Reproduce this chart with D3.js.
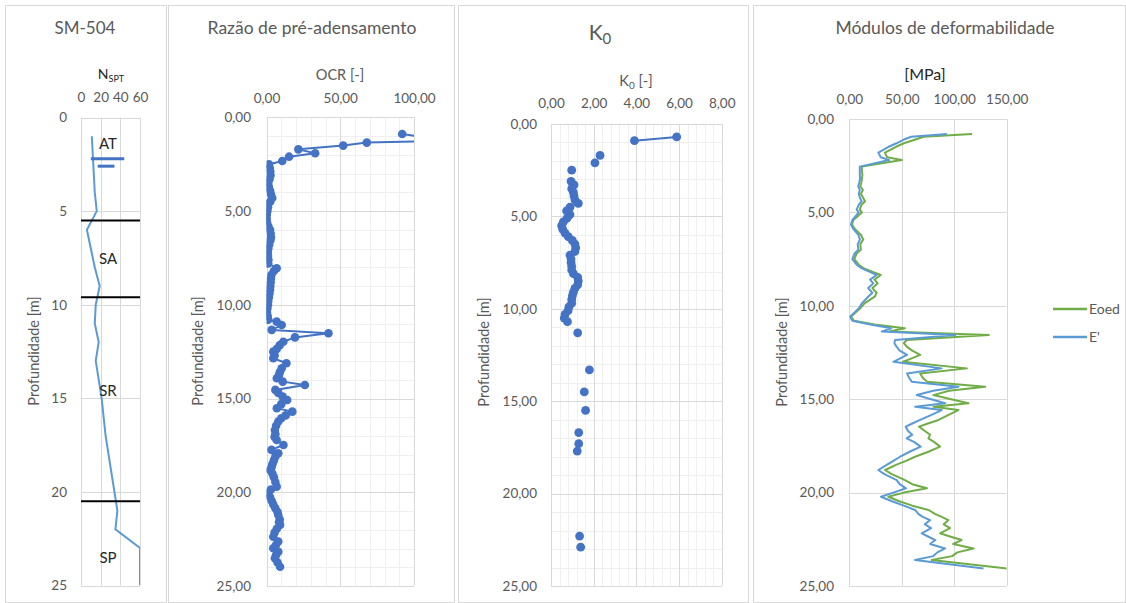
<!DOCTYPE html>
<html><head><meta charset="utf-8">
<script src="https://cdn.jsdelivr.net/npm/d3@7"></script>
<style>
body{margin:0;background:#fff;}
svg{display:block;}
text{font-family:Lato,"Open Sans",sans-serif;}
</style>
</head><body>
<svg id="c" width="1126" height="603"></svg>
<script>
// ---------------- DATA ----------------
const depthTicks = [0,5,10,15,20,25];
const nsptTicks = [0,20,40,60];
const ocrTicks = [0,50,100];
const k0Ticks = [0,2,4,6,8];
const modTicks = [0,50,100,150];

const nsptDepth = [1,2,3,4,5,6,7,8,9,10,11,12,13,14,15,16,17,18,19,20,21,22,23,24,25];
const nsptValue = [11,12,13,14,16,6,10,14,19,15,14,18,15,18,21,23,25,28,31,34,37,35,60,60,60];

const layerBounds = [5.5, 9.6, 20.5];
const layerNames = ["AT","SA","SR","SP"];
const layerLabelDepth = [1.4, 7.55, 14.6, 23.5];
const waterDepth = [2.2, 2.6];
const waterFrom = [10, 17];
const waterTo = [44, 34];

const ocrDepth = [0.89,1.1,1.25,1.35,1.51,1.71,1.92,2.1,2.33,2.51,2.7,2.9,3.1,3.3,3.5,3.7,3.9,4.1,4.3,4.5,4.6,4.8,5.0,5.2,5.4,5.6,5.8,6.0,6.2,6.4,6.55,6.8,7.0,7.2,7.4,7.6,7.8,8.05,8.2,8.4,8.6,8.8,9.0,9.2,9.4,9.6,9.8,10.0,10.2,10.4,10.6,10.8,10.9,11.08,11.34,11.52,11.74,11.97,12.15,12.35,12.5,12.7,12.85,13.12,13.39,13.6,13.75,13.92,14.1,14.28,14.54,14.7,14.9,15.08,15.3,15.52,15.7,15.9,16.05,16.23,16.45,16.68,16.9,17.05,17.21,17.48,17.74,17.92,18.1,18.3,18.5,18.65,18.81,19.0,19.2,19.45,19.7,19.85,20.05,20.25,20.45,20.65,20.85,21.05,21.21,21.45,21.6,21.74,21.95,22.15,22.37,22.63,22.8,22.99,23.17,23.35,23.52,23.75,23.97];
const ocrValue = [92,110,120,68,52,21.6,33,15.3,10.7,1.7,2.2,2.6,2.7,2.0,1.2,1.6,2.4,3.0,3.9,2.5,1.2,1.0,0.6,0.2,0.1,0.3,1.2,2.4,2.8,3.0,2.7,1.8,1.2,0.9,1.0,1.3,1.2,6.9,5.0,3.4,3.0,2.8,2.6,2.4,2.0,1.6,1.2,1.0,0.6,0.3,0.8,1.2,6.9,10.3,3.5,42,19.3,11.4,9.0,7.0,4.6,5.5,4.6,13.5,10.3,9.0,8.5,7.0,11.0,26,6.0,8.0,11.0,14.0,10.0,7.0,17.5,13.0,10.0,8.0,6.5,5.7,6.0,5.5,6.9,11.5,3.4,8.0,6.0,5.0,4.0,3.5,2.4,4.0,5.0,6.0,6.9,3.0,1.2,2.4,3.5,4.6,6.0,7.5,8.0,9.0,8.5,9.2,7.0,5.5,4.6,8.0,6.5,4.6,8.0,6.5,5.7,7.5,9.2];

const k0Depth = [0.7,0.9,1.3,1.7,1.9,2.1,2.3,2.5,2.8,3.1,3.3,3.5,3.7,3.9,4.1,4.3,4.5,4.7,4.9,5.1,5.3,5.5,5.7,5.9,6.1,6.3,6.5,6.7,6.9,7.1,7.3,7.5,7.7,7.9,8.1,8.3,8.5,8.7,8.9,9.1,9.3,9.5,9.7,9.9,10.1,10.3,10.5,10.7,10.9,11.3,11.5,13.3,13.5,14.5,14.7,15.5,15.7,16.7,16.9,17.3,17.5,17.7,17.9,22.3,22.5,22.9];
const k0Value = [5.89,3.91,null,2.30,null,2.06,null,0.97,null,0.94,1.08,0.97,1.05,1.08,1.12,1.28,0.89,0.73,0.89,0.75,0.58,0.50,0.55,0.66,0.81,1.0,1.12,1.16,1.12,0.89,0.94,0.94,0.97,0.97,1.05,1.25,1.28,1.25,1.12,1.05,1.0,0.97,0.97,0.84,0.80,0.66,0.62,0.77,null,1.25,null,1.80,null,1.56,null,1.62,null,1.30,null,1.30,null,1.23,null,1.34,null,1.39];

const modDepth = [0.8,0.95,1.1,1.3,1.5,1.8,2.05,2.2,2.55,2.8,3.0,3.2,3.4,3.6,3.8,4.0,4.2,4.4,4.6,4.85,5.0,5.2,5.4,5.65,5.9,6.2,6.45,6.7,7.0,7.2,7.5,7.8,8.0,8.2,8.35,8.6,8.8,9.05,9.3,9.5,9.87,10.1,10.3,10.58,10.8,11.0,11.2,11.38,11.56,11.83,12.0,12.2,12.4,12.63,12.8,13.0,13.35,13.62,13.85,14.06,14.33,14.55,14.78,15.0,15.22,15.4,15.58,15.8,16.11,16.3,16.47,16.7,16.9,17.1,17.3,17.54,17.8,18.08,18.3,18.5,18.79,19.0,19.33,19.55,19.77,20.0,20.22,20.45,20.7,20.93,21.15,21.3,21.47,21.7,21.9,22.18,22.35,22.54,22.75,22.99,23.2,23.4,23.61,24.06];
const eLinha = [93,59,52,45,37,27.7,30,38,10,10,10,10.2,9.5,8.5,10,9,10,11.8,9,7,9,6,3,1.6,4,8.6,10.2,8,8.6,5,2.9,7,12,20,26,19.8,22.9,18,22,18.2,12,9.5,6,0.7,3,20,40,31,101,43.6,43,45.2,48,55,49,42,88,55,57,59.5,104,80,64.3,78,91.3,62.7,88,80,67.5,60,53.8,56,60,54.7,62,68,58,48.4,42,36,27.7,33,45.2,48,54,42,30.2,40,52,62.7,66,70,77,72,78,69,75,82,77,91.3,84,80,62.7,127.9];
const eOed = [117,71,63,52,44,34,36,50,12,12,12.5,12,11.5,10.5,13,11,13,15,11.5,10,12,8,4,2.5,5.5,11,13.3,10.5,11,7,4.8,9,14,23,30,24,27,22,26,24.5,14.5,11,7,1.5,4.5,24,53,38,133,54.7,52,55,60,67.5,60,51,112,67.5,70,74,129.5,95,80.2,97,113.6,80.2,104,96,85,75,66.5,72,77,75.4,81,86.5,76,62.7,54,45,34.1,40,53.1,60,74,52,37.2,47,60,75.4,82,88,94.5,90,96,86.5,96,107,99,118.4,103,98,78.6,150.2];
const legendNames = ["Eoed","E'"];

// ---------------- DRAWING ----------------
const svg = d3.select("#c");
const GRID = "#d9d9d9", MINOR = "#efefef", TXT = "#595959";
const BLUE = "#4472C4", LBLUE = "#5B9BD5", GREEN = "#70AD47";
const loc = d3.formatLocale({decimal:",", thousands:".", grouping:[3], currency:["",""]});
const f2 = loc.format(".2f");
const f0 = d => String(d);
let clipId = 0;

function panel(p){
  const g = svg.append("g");
  g.append("rect").attr("x",p.frame[0]+0.5).attr("y",p.frame[1]+0.5)
    .attr("width",p.frame[2]).attr("height",p.frame[3])
    .attr("fill","#fff").attr("stroke","#d9d9d9");
  const x = d3.scaleLinear().domain(p.xDomain).range(p.xRange);
  const y = d3.scaleLinear().domain([0,25]).range(p.yRange);
  const [x0,x1] = p.xDomain;
  if (p.xMinorStep){
    const vals = d3.range(x0, x1+1e-9, p.xMinorStep);
    g.selectAll(null).data(vals).join("line")
      .attr("x1",d=>Math.round(x(d))+0.5).attr("x2",d=>Math.round(x(d))+0.5)
      .attr("y1",y(0)).attr("y2",y(25)).attr("stroke",MINOR);
  }
  if (p.yMinorStep){
    const vals = d3.range(0, 25+1e-9, p.yMinorStep);
    g.selectAll(null).data(vals).join("line")
      .attr("y1",d=>Math.round(y(d))+0.5).attr("y2",d=>Math.round(y(d))+0.5)
      .attr("x1",x(x0)).attr("x2",x(x1)).attr("stroke",MINOR);
  }
  g.selectAll(null).data(p.xTicks).join("line")
    .attr("x1",d=>Math.round(x(d))+0.5).attr("x2",d=>Math.round(x(d))+0.5)
    .attr("y1",y(0)).attr("y2",y(25)).attr("stroke",GRID);
  g.selectAll(null).data(depthTicks).join("line")
    .attr("y1",d=>Math.round(y(d))+0.5).attr("y2",d=>Math.round(y(d))+0.5)
    .attr("x1",x(x0)).attr("x2",x(x1)).attr("stroke",GRID);

  // top axis labels
  const ax = g.append("g").attr("transform",`translate(0,${p.xLabelY})`)
    .call(d3.axisTop(x).tickValues(p.xTicks).tickFormat(p.xFmt).tickSize(0).tickPadding(0));
  ax.select(".domain").remove();
  ax.selectAll("text").attr("fill",TXT).style("font-size",p.tickFont+"px").style("font-family","Lato, sans-serif");
  // left axis labels
  const ay = g.append("g").attr("transform",`translate(${p.yLabelX},0)`)
    .call(d3.axisLeft(y).tickValues(depthTicks).tickFormat(p.yFmt).tickSize(0).tickPadding(0));
  ay.select(".domain").remove();
  ay.selectAll("text").attr("fill",TXT).style("font-size",p.tickFont+"px").style("font-family","Lato, sans-serif");

  // y title
  g.append("text").attr("transform",`translate(${p.yTitleX},${p.yTitleY}) rotate(-90)`)
    .attr("text-anchor","middle").attr("fill",TXT).style("font-size","14.5px")
    .text("Profundidade [m]");

  const id = "clip" + (clipId++);
  g.append("clipPath").attr("id",id).append("rect")
    .attr("x",x(x0)).attr("y",y(0)).attr("width",x(x1)-x(x0)).attr("height",y(25)-y(0));
  const data = g.append("g").attr("clip-path",`url(#${id})`);
  return {g,x,y,data};
}

// Panel 1 — SM-504
{
  const P = panel({frame:[5,5,161,597], xDomain:[0,60], xRange:[81,140], yRange:[117.5,585.5],
    xTicks:nsptTicks, xFmt:f0, yFmt:f0, xLabelY:102, yLabelX:67, tickFont:13.5,
    yTitleX:39, yTitleY:351});
  const {g,x,y,data} = P;
  g.append("text").attr("x",85).attr("y",34).attr("text-anchor","middle").attr("fill",TXT)
    .style("font-size","17px").text("SM-504");
  const t = g.append("text").attr("x",111).attr("y",79).attr("text-anchor","middle").attr("fill","#262626")
    .style("font-size","14px");
  t.append("tspan").text("N");
  t.append("tspan").attr("dy",3).style("font-size","9px").text("SPT");
  const line = d3.line().x((d,i)=>x(nsptValue[i])).y((d,i)=>y(nsptDepth[i]));
  data.append("path").datum(nsptDepth).attr("d",line).attr("fill","none")
    .attr("stroke",LBLUE).attr("stroke-width",2);
  g.selectAll(null).data(layerBounds).join("line")
    .attr("x1",x(0)).attr("x2",x(60)).attr("y1",d=>y(d)).attr("y2",d=>y(d))
    .attr("stroke","#000").attr("stroke-width",2);
  g.selectAll(null).data(waterDepth).join("line")
    .attr("x1",(d,i)=>x(waterFrom[i])).attr("x2",(d,i)=>x(waterTo[i]))
    .attr("y1",d=>y(d)).attr("y2",d=>y(d)).attr("stroke",BLUE).attr("stroke-width",3);
  g.selectAll(null).data(layerNames).join("text")
    .attr("x",108).attr("y",(d,i)=>y(layerLabelDepth[i])).attr("dy","0.35em")
    .attr("text-anchor","middle").attr("fill","#262626").style("font-size","15px").text(d=>d);
}

// Panel 2 — OCR
{
  const P = panel({frame:[168,5,286,597], xDomain:[0,100], xRange:[266.5,414], yRange:[117.3,586],
    xTicks:ocrTicks, xFmt:f2, yFmt:f2, xLabelY:103, yLabelX:251, tickFont:13.5,
    xMinorStep:10, yMinorStep:1, yTitleX:203, yTitleY:351});
  const {g,x,y,data} = P;
  g.append("text").attr("x",312).attr("y",34).attr("text-anchor","middle").attr("fill",TXT)
    .style("font-size","17.5px").text("Razão de pré-adensamento");
  g.append("text").attr("x",340).attr("y",80).attr("text-anchor","middle").attr("fill",TXT)
    .style("font-size","14.5px").text("OCR [-]");
  const line = d3.line().x((d,i)=>x(ocrValue[i])).y((d,i)=>y(ocrDepth[i]));
  data.append("path").datum(ocrDepth).attr("d",line).attr("fill","none")
    .attr("stroke",BLUE).attr("stroke-width",2);
  data.selectAll(null).data(ocrDepth).join("circle")
    .attr("cx",(d,i)=>x(ocrValue[i])).attr("cy",d=>y(d)).attr("r",4.3).attr("fill",BLUE);
}

// Panel 3 — K0
{
  const P = panel({frame:[458,5,290,597], xDomain:[0,8], xRange:[551,721.7], yRange:[124,586],
    xTicks:k0Ticks, xFmt:f2, yFmt:f2, xLabelY:108, yLabelX:537, tickFont:13.5,
    xMinorStep:0.4, yMinorStep:1, yTitleX:489, yTitleY:352});
  const {g,x,y,data} = P;
  const t = g.append("text").attr("x",600).attr("y",40).attr("text-anchor","middle").attr("fill",TXT)
    .style("font-size","21px");
  t.append("tspan").text("K");
  t.append("tspan").attr("dy",4).style("font-size","15px").text("0");
  const t2 = g.append("text").attr("x",636).attr("y",86).attr("text-anchor","middle").attr("fill",TXT)
    .style("font-size","14.5px");
  t2.append("tspan").text("K");
  t2.append("tspan").attr("dy",3).style("font-size","10px").text("0");
  t2.append("tspan").attr("dy",-3).text(" [-]");
  const line = d3.line().defined((d,i)=>k0Value[i]!==null)
    .x((d,i)=>x(k0Value[i])).y((d,i)=>y(k0Depth[i]));
  data.append("path").datum(k0Depth).attr("d",line).attr("fill","none")
    .attr("stroke",BLUE).attr("stroke-width",2);
  data.selectAll(null).data(k0Depth.filter((d,i)=>k0Value[i]!==null)).join("circle")
    .attr("cx",d=>x(k0Value[k0Depth.indexOf(d)])).attr("cy",d=>y(d)).attr("r",4.4).attr("fill",BLUE);
}

// Panel 4 — Módulos
{
  const P = panel({frame:[753,5,372,597], xDomain:[0,150], xRange:[849.3,1006.7], yRange:[119,586],
    xTicks:modTicks, xFmt:f2, yFmt:f2, xLabelY:104, yLabelX:834, tickFont:13.5,
    yTitleX:787, yTitleY:352});
  const {g,x,y,data} = P;
  g.append("text").attr("x",945).attr("y",34).attr("text-anchor","middle").attr("fill",TXT)
    .style("font-size","17.5px").text("Módulos de deformabilidade");
  g.append("text").attr("x",925).attr("y",80).attr("text-anchor","middle").attr("fill","#262626")
    .style("font-size","16px").text("[MPa]");
  const series = [eOed, eLinha];
  const colors = [GREEN, LBLUE];
  series.forEach((vals,k)=>{
    const line = d3.line().x((d,i)=>x(vals[i])).y((d,i)=>y(modDepth[i]));
    data.append("path").datum(modDepth).attr("d",line).attr("fill","none")
      .attr("stroke",colors[k]).attr("stroke-width",2).attr("stroke-linejoin","round");
  });
  const lg = g.selectAll(null).data(legendNames).join("g")
    .attr("transform",(d,i)=>`translate(1053,${309+i*28})`);
  lg.append("line").attr("x1",0).attr("x2",34).attr("stroke",(d,i)=>colors[i]).attr("stroke-width",2.5);
  lg.append("text").attr("x",36).attr("dy","0.35em").attr("fill",TXT).style("font-size","14px").text(d=>d);
}
</script>
</body></html>
